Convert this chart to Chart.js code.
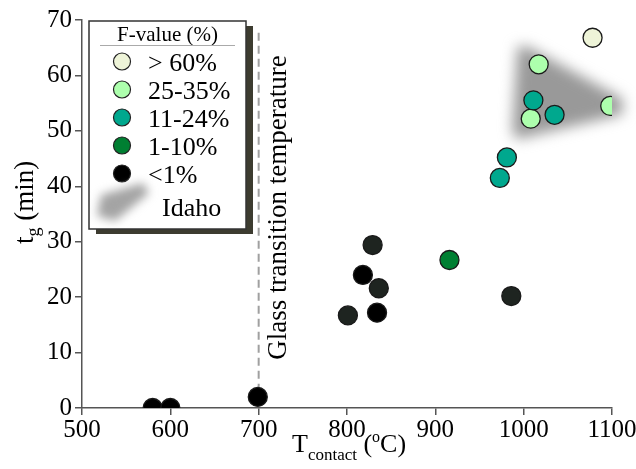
<!DOCTYPE html>
<html>
<head>
<meta charset="utf-8">
<script src="https://cdn.jsdelivr.net/npm/chart.js"></script>
<style>
  html, body { margin: 0; padding: 0; background: #fff; }
  #wrap { width: 636px; height: 469px; }
</style>
</head>
<body>
<div id="wrap"><canvas id="tgChart" width="636" height="469"></canvas></div>
<script>
// --- data ---
const fOver60 = [{ x: 1078, y: 66.8 }];
const f25to35 = [{ x: 1017, y: 62.0 }, { x: 1008, y: 52.2 }, { x: 1098, y: 54.5 }];
const f11to24 = [{ x: 973, y: 41.5 }, { x: 981, y: 45.2 }, { x: 1011, y: 55.5 }, { x: 1035, y: 52.9 }];
const f1to10 = [{ x: 916, y: 26.7 }];
const fUnder1 = [{ x: 580, y: 0 }, { x: 600, y: 0 }, { x: 699, y: 2 }, { x: 818, y: 24.0 }, { x: 834, y: 17.2 }];
const fUnder1b = [{ x: 801, y: 16.7 }, { x: 829, y: 29.4 }, { x: 836, y: 21.6 }, { x: 986, y: 20.2 }];
const xTicks = [500, 600, 700, 800, 900, 1000, 1100];
const yTicks = [0, 10, 20, 30, 40, 50, 60, 70];
const glassT = 700;
// Idaho field outline (data units)
const idahoX = [993, 1004, 1112, 1112, 992, 987];
const idahoY = [65.2, 65.2, 55.8, 53.0, 48.5, 50.0];

const serif = "'Liberation Serif', 'DejaVu Serif', serif";

/* === gray Idaho field, glass line, titles === */
const extras = {
  id: "extras",
  beforeDatasetsDraw(chart) {
    const { ctx, scales: { x, y } } = chart;
    ctx.save();
    ctx.filter = "blur(7px)";
    ctx.fillStyle = "#999";
    ctx.beginPath();
    idahoX.forEach((v, i) => {
      const px = x.getPixelForValue(v), py = y.getPixelForValue(idahoY[i]);
      i ? ctx.lineTo(px, py) : ctx.moveTo(px, py);
    });
    ctx.closePath();
    ctx.fill();
    ctx.restore();

    // glass transition line
    const gx = x.getPixelForValue(glassT);
    ctx.save();
    ctx.strokeStyle = "#a0a0a0";
    ctx.lineWidth = 2;
    ctx.setLineDash([8, 5]);
    ctx.beginPath();
    ctx.moveTo(gx, y.getPixelForValue(67.7));
    ctx.lineTo(gx, y.getPixelForValue(2.5));
    ctx.stroke();
    ctx.restore();

    ctx.save();
    ctx.translate(gx + 27, y.getPixelForValue(8.7));
    ctx.rotate(-Math.PI / 2);
    ctx.fillStyle = "#000";
    ctx.font = "27px " + serif;
    ctx.fillText("Glass transition temperature", 0, 0);
    ctx.restore();
  },
  afterDraw(chart) {
    const { ctx } = chart;
    // y title: t_g (min)
    ctx.save();
    ctx.fillStyle = "#000";
    ctx.translate(33, 244);
    ctx.rotate(-Math.PI / 2);
    ctx.font = "27px " + serif;
    ctx.fillText("t", 0, 0);
    let w = ctx.measureText("t").width;
    ctx.font = "18px " + serif;
    ctx.fillText("g", w, 6);
    w += ctx.measureText("g").width;
    ctx.font = "27px " + serif;
    ctx.fillText(" (min)", w, 0);
    ctx.restore();

    // x title: T_contact (oC)
    ctx.save();
    ctx.fillStyle = "#000";
    let cx = 292;
    const by = 452;
    const put = (t, size, dy) => {
      ctx.font = size + "px " + serif;
      ctx.fillText(t, cx, by + dy);
      cx += ctx.measureText(t).width;
    };
    put("T", 26, 0);
    put("contact", 17, 8);
    put(" (", 26, 0);
    put("o", 16, -10);
    put("C)", 26, 0);
    ctx.restore();

    // legend box
    const bx = 89, bY = 21, bw = 157, bh = 208;
    ctx.save();
    ctx.fillStyle = "#3d3c30";
    ctx.fillRect(bx + 7, bY + 5, bw, bh);
    ctx.fillStyle = "#fff";
    ctx.fillRect(bx, bY, bw, bh);
    ctx.strokeStyle = "#333";
    ctx.lineWidth = 1.5;
    ctx.strokeRect(bx, bY, bw, bh);
    ctx.fillStyle = "#000";
    ctx.font = "21px " + serif;
    ctx.textAlign = "center";
    ctx.fillText("F-value (%)", bx + bw / 2, bY + 20);
    ctx.strokeStyle = "#aaa";
    ctx.lineWidth = 1;
    ctx.beginPath();
    ctx.moveTo(bx + 11, bY + 24.5);
    ctx.lineTo(bx + bw - 11, bY + 24.5);
    ctx.stroke();
    ctx.textAlign = "left";
    ctx.font = "26px " + serif;
    const rows = [
      ["> 60%", "#eef4d8"], ["25-35%", "#adffad"], ["11-24%", "#00a88e"],
      ["1-10%", "#007f32"], ["<1%", "#000"]
    ];
    rows.forEach(([t, c], i) => {
      const ry = bY + 40.5 + i * 28;
      ctx.beginPath();
      ctx.arc(bx + 33, ry, 8.5, 0, Math.PI * 2);
      ctx.fillStyle = c;
      ctx.fill();
      ctx.strokeStyle = "#222";
      ctx.lineWidth = 1.2;
      ctx.stroke();
      ctx.fillStyle = "#000";
      ctx.fillText(t, bx + 59, ry + 9);
    });
    // Idaho smear
    ctx.save();
    ctx.filter = "blur(5px)";
    ctx.fillStyle = "#a4a4a4";
    ctx.beginPath();
    ctx.moveTo(bx + 8, bY + 195);
    ctx.lineTo(bx + 12, bY + 174);
    ctx.lineTo(bx + 54, bY + 162);
    ctx.lineTo(bx + 60, bY + 172);
    ctx.lineTo(bx + 26, bY + 200);
    ctx.closePath();
    ctx.fill();
    ctx.restore();
    ctx.fillStyle = "#000";
    ctx.fillText("Idaho", bx + 73, bY + 195);
    ctx.restore();
  }
};

const pointSet = (data, fill) => ({
  data,
  backgroundColor: fill,
  borderColor: "#1a1a1a",
  borderWidth: 1.3,
  pointRadius: 9.5,
  pointHoverRadius: 9.5
});

const axisCommon = {
  border: { display: true, color: "#555", width: 1.5 },
  grid: { display: true, drawOnChartArea: false, drawTicks: true, tickLength: 7, color: "#555", lineWidth: 1.5 },
  ticks: { color: "#000", font: { family: serif, size: 25 }, callback: (v) => String(v) }
};

new Chart(document.getElementById("tgChart"), {
  type: "scatter",
  data: {
    datasets: [
      pointSet(fUnder1, "#000000"),
      pointSet(fUnder1b, "#1e2420"),
      pointSet(f1to10, "#007f32"),
      pointSet(f11to24, "#00a88e"),
      pointSet(f25to35, "#adffad"),
      pointSet(fOver60, "#eef4d8")
    ]
  },
  options: {
    responsive: false,
    animation: false,
    layout: { padding: { top: 0, right: 0, left: 0, bottom: 0 } },
    plugins: { legend: { display: false }, tooltip: { enabled: false } },
    scales: {
      x: {
        ...axisCommon,
        type: "linear",
        min: 500, max: 1100,
        afterBuildTicks: (s) => { s.ticks = xTicks.map(v => ({ value: v })); },
        afterFit: (s) => { s.height = 61; s.paddingRight = 24; },
        ticks: { ...axisCommon.ticks, padding: 0 }
      },
      y: {
        ...axisCommon,
        min: 0, max: 70,
        afterBuildTicks: (s) => { s.ticks = yTicks.map(v => ({ value: v })); },
        afterFit: (s) => { s.width = 82; s.paddingTop = 20; },
        ticks: { ...axisCommon.ticks, padding: 3 }
      }
    }
  },
  plugins: [extras]
});
</script>
</body>
</html>
